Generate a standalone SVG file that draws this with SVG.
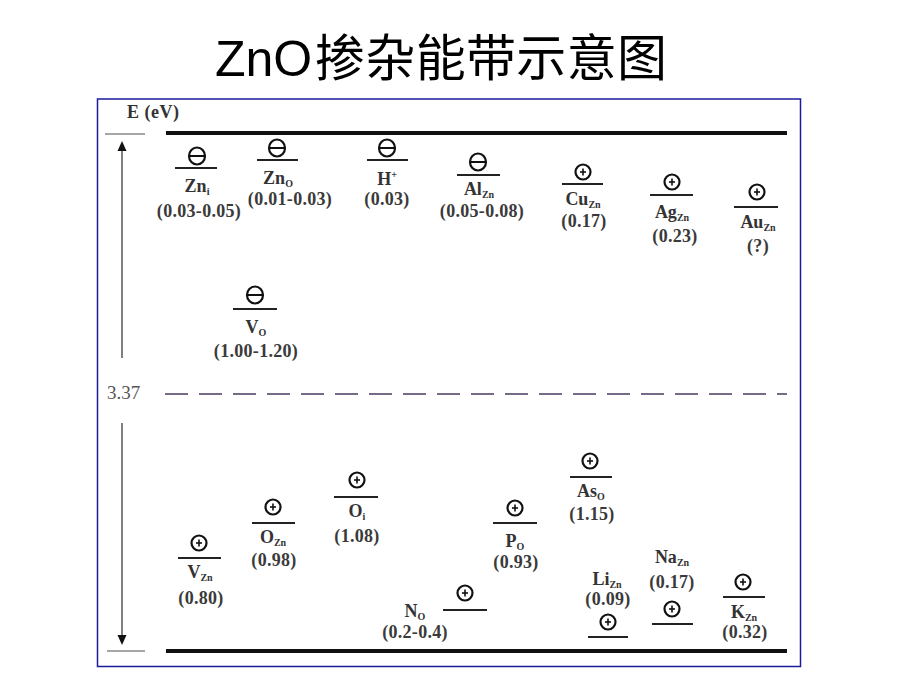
<svg xmlns="http://www.w3.org/2000/svg" width="920" height="690" viewBox="0 0 920 690">
<style>
.title{font-family:"Liberation Sans",Arial,sans-serif;font-size:50px;fill:#000}
.cjk{font-family:"Noto Sans CJK SC","Noto Sans",sans-serif;font-size:50px;fill:#000}
.lab{font-family:"Liberation Serif","Times New Roman",serif;font-size:18px;font-weight:bold;fill:#333;text-anchor:middle}
.val{font-family:"Liberation Serif","Times New Roman",serif;font-size:18px;font-weight:bold;fill:#3a3a3a;text-anchor:middle;letter-spacing:0.3px}
.sub{font-size:10px;font-weight:bold}
.lvl{stroke:#222;stroke-width:2.2}
.sym{fill:none;stroke:#111;stroke-width:2.2}
.band{stroke:#111;stroke-width:4}
.tick{stroke:#888;stroke-width:1.5}
</style>
<defs>
<g id="minus"><ellipse class="sym" cx="0" cy="0" rx="8" ry="8.5"/><line x1="-8" y1="0" x2="8" y2="0" stroke="#111" stroke-width="2"/></g>
<g id="plus"><circle class="sym" cx="0" cy="0" r="7.5"/><line x1="-3" y1="0" x2="3" y2="0" stroke="#111" stroke-width="1.6"/><line x1="0" y1="-3.5" x2="0" y2="3.5" stroke="#111" stroke-width="1.6"/></g>
</defs>
<rect width="920" height="690" fill="#fff"/>
<text x="215" y="76" class="title">ZnO</text>
<text x="315" y="76" class="cjk" textLength="352" lengthAdjust="spacing">掺杂能带示意图</text>
<rect x="97.5" y="99" width="703" height="567.5" fill="none" stroke="#1a1a9c" stroke-width="1.5"/>

<g id="axis">
<text x="127" y="118" font-family="Liberation Serif,serif" font-size="18" font-weight="bold" fill="#333" letter-spacing="0.5">E (eV)</text>
<line class="tick" x1="105" y1="134" x2="145" y2="134"/>
<line class="tick" x1="107" y1="651" x2="145" y2="651"/>
<line class="band" x1="166" y1="133" x2="787" y2="133"/>
<line class="band" x1="166" y1="651" x2="787" y2="651"/>
<line x1="165" y1="394" x2="787" y2="394" stroke="#776a88" stroke-width="2" stroke-dasharray="23 11"/>
<text x="107" y="399" font-family="Liberation Serif,serif" font-size="19" fill="#555">3.37</text>
</g>

<g id="connectors">
<line x1="122" y1="150" x2="122" y2="358" stroke="#555" stroke-width="1.5"/>
<polygon points="122,141 117.5,151 126.5,151" fill="#111"/>
<line x1="122" y1="423" x2="122" y2="636" stroke="#555" stroke-width="1.5"/>
<polygon points="122,645 117.5,635 126.5,635" fill="#111"/>
</g>

<g id="Zn_i"><use href="#minus" x="197" y="156"/><line class="lvl" x1="175" y1="168" x2="217" y2="168"/>
<text class="lab" x="197" y="192">Zn<tspan class="sub" dy="3">i</tspan></text><text class="val" x="199" y="217">(0.03-0.05)</text></g>

<g id="Zn_O"><use href="#minus" x="277" y="148"/><line class="lvl" x1="257" y1="160" x2="298" y2="160"/>
<text class="lab" x="278" y="184">Zn<tspan class="sub" dy="3">O</tspan></text><text class="val" x="290" y="205">(0.01-0.03)</text></g>

<g id="H_plus"><use href="#minus" x="387" y="148"/><line class="lvl" x1="367" y1="160" x2="408" y2="160"/>
<text class="lab" x="387" y="185">H<tspan class="sub" dy="-7">+</tspan></text><text class="val" x="387" y="205">(0.03)</text></g>

<g id="Al_Zn"><use href="#minus" x="478" y="162"/><line class="lvl" x1="457" y1="175" x2="500" y2="175"/>
<text class="lab" x="479" y="195">Al<tspan class="sub" dy="3">Zn</tspan></text><text class="val" x="482" y="217">(0.05-0.08)</text></g>

<g id="Cu_Zn"><use href="#plus" x="583" y="172"/><line class="lvl" x1="562" y1="184" x2="603" y2="184"/>
<text class="lab" x="583" y="205">Cu<tspan class="sub" dy="3">Zn</tspan></text><text class="val" x="584" y="227">(0.17)</text></g>

<g id="Ag_Zn"><use href="#plus" x="672" y="182"/><line class="lvl" x1="650" y1="195" x2="693" y2="195"/>
<text class="lab" x="672" y="218">Ag<tspan class="sub" dy="3">Zn</tspan></text><text class="val" x="675" y="242">(0.23)</text></g>

<g id="Au_Zn"><use href="#plus" x="757" y="192"/><line class="lvl" x1="734" y1="207" x2="778" y2="207"/>
<text class="lab" x="758" y="228">Au<tspan class="sub" dy="3">Zn</tspan></text><text class="val" x="758" y="252">(?)</text></g>

<g id="V_O"><use href="#minus" x="255" y="295"/><line class="lvl" x1="233" y1="309" x2="277" y2="309"/>
<text class="lab" x="256" y="333">V<tspan class="sub" dy="3">O</tspan></text><text class="val" x="256" y="357">(1.00-1.20)</text></g>

<g id="V_Zn"><use href="#plus" x="199" y="543"/><line class="lvl" x1="178" y1="558" x2="221" y2="558"/>
<text class="lab" x="200" y="578">V<tspan class="sub" dy="3">Zn</tspan></text><text class="val" x="201" y="604">(0.80)</text></g>

<g id="O_Zn"><use href="#plus" x="273" y="507"/><line class="lvl" x1="252" y1="523" x2="295" y2="523"/>
<text class="lab" x="273" y="543">O<tspan class="sub" dy="3">Zn</tspan></text><text class="val" x="274" y="566">(0.98)</text></g>

<g id="O_i"><use href="#plus" x="357" y="480"/><line class="lvl" x1="334" y1="497" x2="378" y2="497"/>
<text class="lab" x="357" y="517">O<tspan class="sub" dy="3">i</tspan></text><text class="val" x="357" y="542">(1.08)</text></g>

<g id="N_O"><use href="#plus" x="465" y="593"/><line class="lvl" x1="443" y1="610" x2="487" y2="610"/>
<text class="lab" x="415" y="617">N<tspan class="sub" dy="3">O</tspan></text><text class="val" x="415" y="638">(0.2-0.4)</text></g>

<g id="P_O"><use href="#plus" x="515" y="508"/><line class="lvl" x1="493" y1="523" x2="537" y2="523"/>
<text class="lab" x="515" y="547">P<tspan class="sub" dy="3">O</tspan></text><text class="val" x="516" y="568">(0.93)</text></g>

<g id="As_O"><use href="#plus" x="590" y="461"/><line class="lvl" x1="570" y1="477" x2="612" y2="477"/>
<text class="lab" x="591" y="497">As<tspan class="sub" dy="3">O</tspan></text><text class="val" x="592" y="520">(1.15)</text></g>

<g id="Li_Zn"><use href="#plus" x="608" y="622"/><line class="lvl" x1="588" y1="637" x2="628" y2="637"/>
<text class="lab" x="607" y="585">Li<tspan class="sub" dy="3">Zn</tspan></text><text class="val" x="608" y="605">(0.09)</text></g>

<g id="Na_Zn"><use href="#plus" x="672" y="609"/><line class="lvl" x1="652" y1="624" x2="693" y2="624"/>
<text class="lab" x="672" y="563">Na<tspan class="sub" dy="3">Zn</tspan></text><text class="val" x="672" y="588">(0.17)</text></g>

<g id="K_Zn"><use href="#plus" x="743" y="582"/><line class="lvl" x1="723" y1="597" x2="765" y2="597"/>
<text class="lab" x="744" y="618">K<tspan class="sub" dy="3">Zn</tspan></text><text class="val" x="745" y="638">(0.32)</text></g>
</svg>
